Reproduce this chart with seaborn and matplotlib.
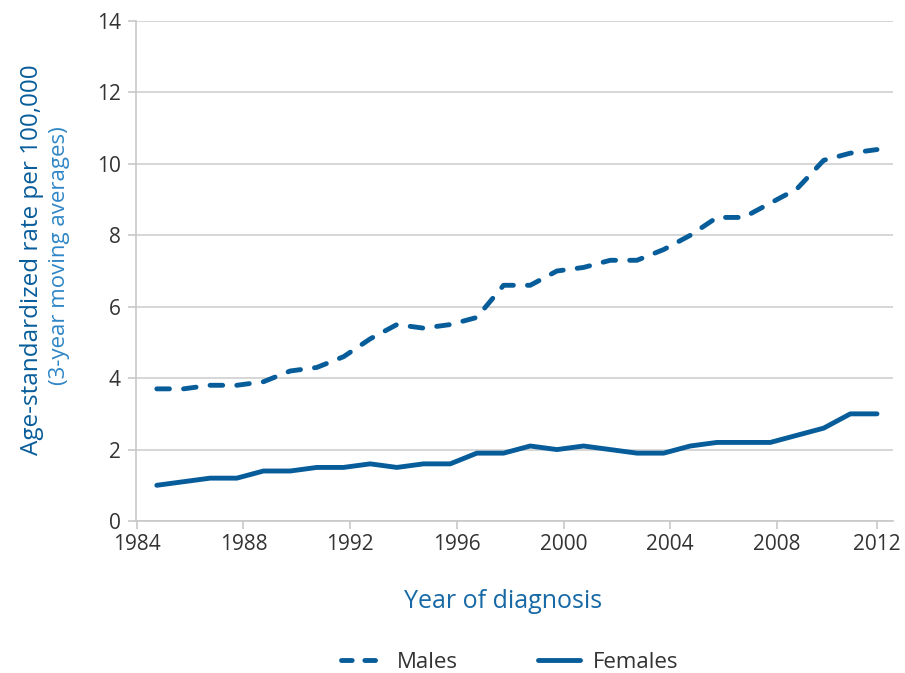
import pandas as pd
import matplotlib.pyplot as plt
import seaborn as sns

# Du lieu doc tu bieu do (trung binh truot 3 nam)
years = list(range(1985, 2013))
males = [3.7, 3.7, 3.8, 3.8, 3.9, 4.2, 4.3, 4.6, 5.1, 5.5, 5.4, 5.5,
         5.7, 6.6, 6.6, 7.0, 7.1, 7.3, 7.3, 7.6, 8.0, 8.5, 8.5, 8.9,
         9.3, 10.1, 10.3, 10.4]
females = [1.0, 1.1, 1.2, 1.2, 1.4, 1.4, 1.5, 1.5, 1.6, 1.5, 1.6, 1.6,
           1.9, 1.9, 2.1, 2.0, 2.1, 2.0, 1.9, 1.9, 2.1, 2.2, 2.2, 2.2,
           2.4, 2.6, 3.0, 3.0]
tick_years = [1984, 1988, 1992, 1996, 2000, 2004, 2008, 2012]

df = pd.concat([
    pd.DataFrame({'year': years, 'rate': males, 'sex': 'Males'}),
    pd.DataFrame({'year': years, 'rate': females, 'sex': 'Females'}),
])

blue = '#075c9a'
dash = (2.6, 2.9)
sns.set_theme(style="white")
plt.rcParams['font.family'] = ['Open Sans', 'DejaVu Sans']

fig = plt.figure(figsize=(9.05, 6.73), dpi=100)
ax = fig.add_axes([136 / 905, 1 - 521 / 673, (893 - 136) / 905, 500 / 673])

sns.lineplot(data=df, x='year', y='rate', hue='sex', style='sex',
             palette={'Males': blue, 'Females': blue},
             dashes={'Males': dash, 'Females': ''},
             linewidth=3.5, ax=ax, legend=False)
for ln in ax.lines:
    ln.set_dash_capstyle('round')
    ln.set_solid_capstyle('round')
    ln.set_solid_joinstyle('round')
    ln.set_dash_joinstyle('round')

ax.set_ylim(0, 14)
ax.set_yticks(range(0, 15, 2))
ax.set_xlim(1984.22, 2012.6)
# vach chia lech 1/4 nam giong bieu do goc (tru nam cuoi)
tick_pos = [y + 0.25 for y in tick_years[:-1]] + [tick_years[-1]]
ax.set_xticks(tick_pos)
ax.set_xticklabels([str(y) for y in tick_years])

ax.grid(axis='y', color='#d0d0d0', linewidth=1.2)
ax.set_axisbelow(True)
for s in ['top', 'right']:
    ax.spines[s].set_visible(False)
for s in ['left', 'bottom']:
    ax.spines[s].set_color('#c8c8c8')
    ax.spines[s].set_linewidth(1.2)
ax.tick_params(axis='x', bottom=True, length=6, width=1.2, color='#c8c8c8',
               labelsize=15, labelcolor='#333333', pad=3)
ax.tick_params(axis='y', left=True, length=6, width=1.2, color='#c8c8c8',
               labelsize=15, labelcolor='#333333', pad=5)
ax.set_xlabel('')
ax.set_ylabel('')

fig.text(32 / 905, 1 - 260 / 673, 'Age-standardized rate per 100,000',
         rotation=90, ha='center', va='center', fontsize=17.5, color=blue)
fig.text(60 / 905, 1 - 256 / 673, '(3-year moving averages)',
         rotation=90, ha='center', va='center', fontsize=16, color='#2f86c6')
fig.text(503 / 905, 1 - 601 / 673, 'Year of diagnosis',
         ha='center', va='center', fontsize=18, color='#1769a6')

# chu giai
h1, = ax.plot([], [], color=blue, lw=3.5, dashes=(2.2, 2.6), dash_capstyle='round')
h2, = ax.plot([], [], color=blue, lw=3.5, solid_capstyle='round')
fig.legend([h1, h2], ['Males', 'Females'], loc='center',
           bbox_to_anchor=(510 / 905, 1 - 662 / 673), ncol=2, frameon=False,
           fontsize=16, handlelength=1.9, columnspacing=3.6, handletextpad=0.6,
           labelcolor='#333333')

fig.savefig('out.png', dpi=100)
